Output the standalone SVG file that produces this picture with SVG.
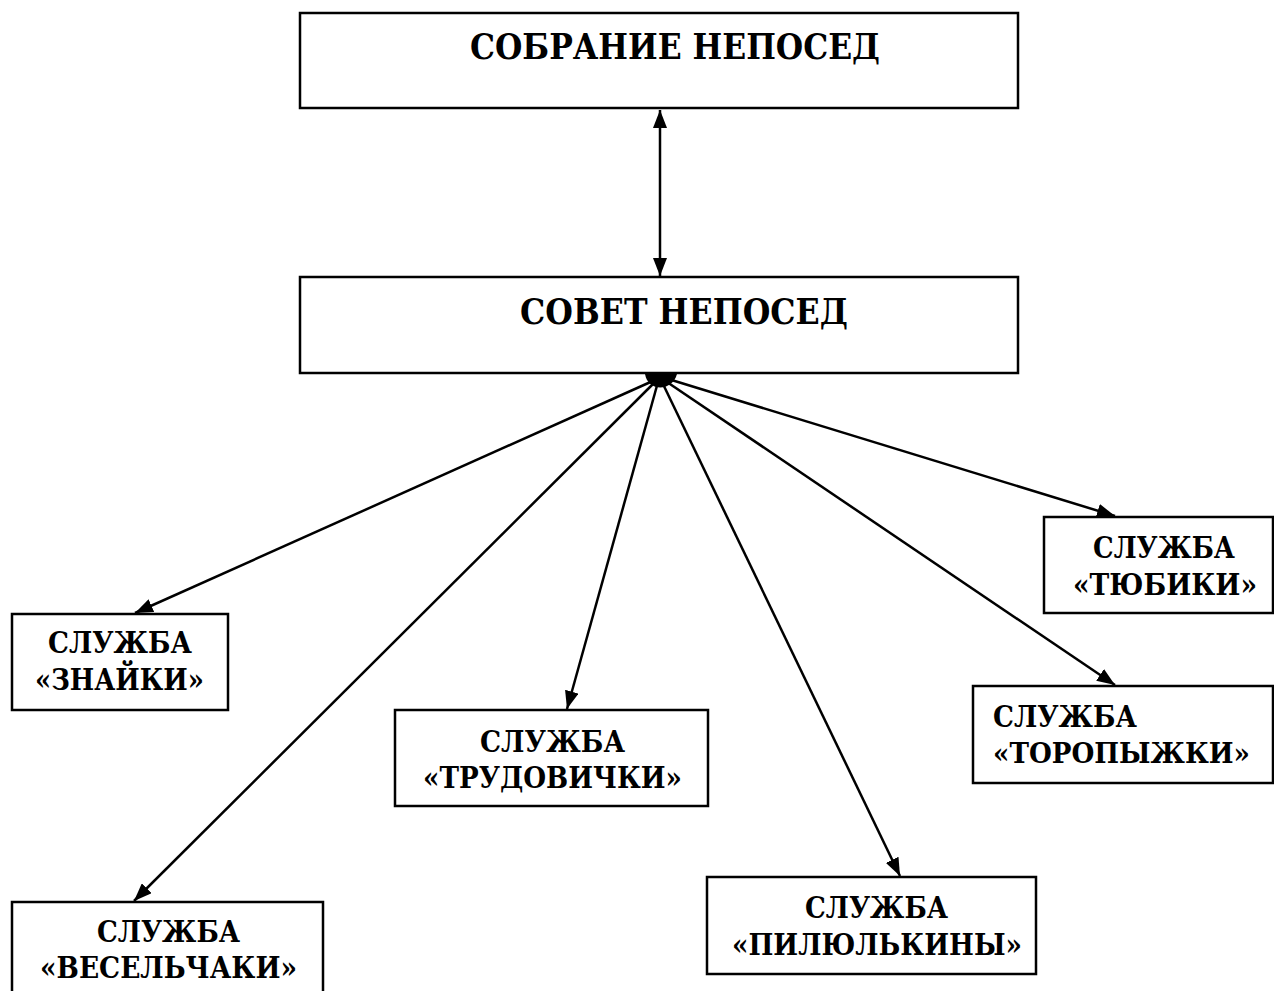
<svg xmlns="http://www.w3.org/2000/svg" width="1274" height="991" viewBox="0 0 1274 991">
<style>
.box{fill:#fff;stroke:#000;stroke-width:2.5}
.c{stroke:#000;stroke-width:2.5;fill:none}
</style>
<defs>
<marker id="a" viewBox="0 0 10 10" refX="10" refY="5" markerWidth="18" markerHeight="14" markerUnits="userSpaceOnUse" orient="auto-start-reverse" preserveAspectRatio="none">
<path d="M0,0 L10,5 L0,10 z" fill="#000"/>
</marker>
</defs>
<g font-family="DejaVu Serif, Liberation Serif, serif" font-weight="bold" font-size="35">
<g id="n-sobranie">
<rect class="box" x="300" y="13" width="718" height="95"/>
<text x="470" y="59" textLength="410" lengthAdjust="spacingAndGlyphs">СОБРАНИЕ НЕПОСЕД</text>
</g>
<g id="n-sovet">
<rect class="box" x="300" y="277" width="718" height="96"/>
<text x="520" y="324" textLength="328" lengthAdjust="spacingAndGlyphs">СОВЕТ НЕПОСЕД</text>
</g>
</g>
<g font-family="DejaVu Serif, Liberation Serif, serif" font-weight="bold" font-size="29">
<g id="n-znayki">
<rect class="box" x="12" y="614" width="216" height="96"/>
<text x="48" y="653" textLength="144" lengthAdjust="spacingAndGlyphs">СЛУЖБА</text>
<text x="35" y="690" textLength="169" lengthAdjust="spacingAndGlyphs">«ЗНАЙКИ»</text>
</g>
<g id="n-veselchaki">
<rect class="box" x="12" y="902" width="311" height="100"/>
<text x="97" y="942" textLength="143" lengthAdjust="spacingAndGlyphs">СЛУЖБА</text>
<text x="40" y="978" textLength="257" lengthAdjust="spacingAndGlyphs">«ВЕСЕЛЬЧАКИ»</text>
</g>
<g id="n-trudovichki">
<rect class="box" x="395" y="710" width="313" height="96"/>
<text x="480" y="752" textLength="145" lengthAdjust="spacingAndGlyphs">СЛУЖБА</text>
<text x="423" y="788" textLength="259" lengthAdjust="spacingAndGlyphs">«ТРУДОВИЧКИ»</text>
</g>
<g id="n-pilyulkiny">
<rect class="box" x="707" y="877" width="329" height="97"/>
<text x="805" y="918" textLength="143" lengthAdjust="spacingAndGlyphs">СЛУЖБА</text>
<text x="732" y="955" textLength="290" lengthAdjust="spacingAndGlyphs">«ПИЛЮЛЬКИНЫ»</text>
</g>
<g id="n-tyubiki">
<rect class="box" x="1044" y="517" width="229" height="96"/>
<text x="1093" y="558" textLength="142" lengthAdjust="spacingAndGlyphs">СЛУЖБА</text>
<text x="1073" y="595" textLength="184" lengthAdjust="spacingAndGlyphs">«ТЮБИКИ»</text>
</g>
<g id="n-toropyzhki">
<rect class="box" x="973" y="686" width="300" height="97"/>
<text x="993" y="727" textLength="144" lengthAdjust="spacingAndGlyphs">СЛУЖБА</text>
<text x="993" y="763" font-size="27" textLength="257" lengthAdjust="spacingAndGlyphs">«ТОРОПЫЖКИ»</text>
</g>
</g>
<g id="connectors">
<line class="c" x1="660" y1="110" x2="660" y2="276" marker-start="url(#a)" marker-end="url(#a)"/>
<path d="M645,374 C648,392 672,392 677,374 Z" fill="#000"/>
<line class="c" x1="655" y1="380" x2="135" y2="613" marker-end="url(#a)"/>
<line class="c" x1="655" y1="382" x2="134" y2="901" marker-end="url(#a)"/>
<line class="c" x1="658" y1="382" x2="567" y2="709" marker-end="url(#a)"/>
<line class="c" x1="662" y1="382" x2="900" y2="876" marker-end="url(#a)"/>
<line class="c" x1="664" y1="380" x2="1115" y2="685" marker-end="url(#a)"/>
<line class="c" x1="665" y1="378" x2="1115" y2="516" marker-end="url(#a)"/>
</g>
</svg>
